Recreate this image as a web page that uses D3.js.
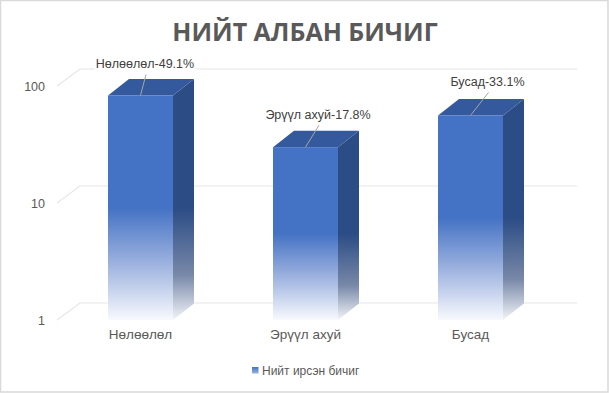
<!DOCTYPE html>
<html><head><meta charset="utf-8">
<script src="https://cdn.jsdelivr.net/npm/d3@7"></script>
<style>html,body{margin:0;padding:0;background:#fff;} svg{display:block;}</style>
</head><body>
<svg id="c" width="609" height="393"></svg>
<script>
const title = "НИЙТ АЛБАН БИЧИГ";
const categories = ["Нөлөөлөл", "Эрүүл ахуй", "Бусад"];
const values = [83, 30, 56];
const percentLabels = ["49.1%", "17.8%", "33.1%"];
const tickValues = [1, 10, 100];
const seriesName = "Нийт ирсэн бичиг";

// layout
const W = 609, H = 393;
const depth = {dx: 23, dy: -17};
const barDepth = {dx: 21, dy: -16.5};
const labelOffsets = [[4.5, -31], [12.5, -32], [17, -33]];

const svg = d3.select("#c");
svg.append("rect").attr("x", 0.5).attr("y", 0.5).attr("width", W - 1.5).attr("height", H - 1.5)
  .attr("fill", "#fff").attr("stroke", "#d9d9d9").attr("stroke-width", 1.5);

const y = d3.scaleLog().domain([1, 100]).range([320, 86]);
const x = d3.scaleBand().domain(categories).range([58, 553]).paddingInner(0.606).paddingOuter(0.303);

// title
svg.append("text").attr("x", 305).attr("y", 41).attr("text-anchor", "middle")
  .attr("font-family", "'Open Sans', 'Liberation Sans', sans-serif").attr("font-weight", "bold")
  .attr("font-size", 25).attr("fill", "#595959").text(title);

// gridlines with perspective
const gridRight = 577;
const grid = svg.append("g");
tickValues.forEach(t => {
  const yf = y(t);
  const x0 = 57;
  grid.append("path")
    .attr("d", `M${x0},${yf} L${x0 + depth.dx},${yf + depth.dy} L${gridRight},${yf + depth.dy}`)
    .attr("fill", "none").attr("stroke", "#e6e6e6").attr("stroke-width", 1.2);
});

// axis labels via d3 axis
const axis = d3.axisLeft(y).tickValues(tickValues).tickFormat(d3.format("d")).tickSize(0).tickPadding(0);
const ag = svg.append("g").attr("transform", "translate(45,0)").call(axis);
ag.select(".domain").remove();
ag.selectAll("text").attr("font-family", "'Liberation Sans', Arial, sans-serif").attr("font-size", 12.5)
  .attr("fill", "#595959");

// bars
const defs = svg.append("defs");
const bars = svg.append("g");
const y0 = y(1);
categories.forEach((c, i) => {
  const xl = x(c), xr = xl + x.bandwidth(), yt = y(values[i]);
  const gf = defs.append("linearGradient").attr("id", "gf" + i).attr("gradientUnits", "userSpaceOnUse")
    .attr("x1", 0).attr("x2", 0).attr("y1", yt).attr("y2", y0);
  gf.append("stop").attr("offset", 0).attr("stop-color", "#4472C4");
  gf.append("stop").attr("offset", 0.5).attr("stop-color", "#4472C4");
  gf.append("stop").attr("offset", 0.75).attr("stop-color", "#9db2df");
  gf.append("stop").attr("offset", 1).attr("stop-color", "#f7f9fd");
  const gs = defs.append("linearGradient").attr("id", "gs" + i).attr("gradientUnits", "userSpaceOnUse")
    .attr("x1", 0).attr("x2", 0).attr("y1", yt).attr("y2", y0);
  gs.append("stop").attr("offset", 0).attr("stop-color", "#2B4C85");
  gs.append("stop").attr("offset", 0.5).attr("stop-color", "#2B4C85");
  gs.append("stop").attr("offset", 0.8).attr("stop-color", "#7888a8");
  gs.append("stop").attr("offset", 1).attr("stop-color", "#f2f4f8");

  // side
  bars.append("polygon").attr("points", [
    [xr, yt], [xr + barDepth.dx, yt + barDepth.dy], [xr + barDepth.dx, y0 + barDepth.dy], [xr, y0]
  ].map(p => p.join(",")).join(" ")).attr("fill", `url(#gs${i})`);
  // top
  bars.append("polygon").attr("points", [
    [xl, yt], [xl + barDepth.dx, yt + barDepth.dy], [xr + barDepth.dx, yt + barDepth.dy], [xr, yt]
  ].map(p => p.join(",")).join(" ")).attr("fill", "#34599C");
  // front
  bars.append("rect").attr("x", xl).attr("y", yt).attr("width", xr - xl).attr("height", y0 - yt)
    .attr("fill", `url(#gf${i})`);

  // data label
  const cx = (xl + xr) / 2;
  const lx = cx + labelOffsets[i][0], ly = yt + labelOffsets[i][1];
  bars.append("line").attr("x1", lx + 1).attr("y1", ly + 10).attr("x2", cx).attr("y2", yt)
    .attr("stroke", "#a6a6a6").attr("stroke-width", 1);
  const txt = bars.append("text").attr("x", lx).attr("y", ly).attr("text-anchor", "middle")
    .attr("dominant-baseline", "central")
    .attr("font-family", "'Liberation Sans', Arial, sans-serif").attr("font-size", 12.5)
    .attr("fill", "#404040").text(c + "-" + percentLabels[i]);
  const bb = txt.node().getBBox();
  bars.insert("rect", () => txt.node()).attr("x", bb.x - 1).attr("y", bb.y + 1).attr("width", bb.width + 2)
    .attr("height", bb.height - 2).attr("fill", "#fff");

  // category label
  svg.append("text").attr("x", cx).attr("y", 339).attr("text-anchor", "middle")
    .attr("font-family", "'Liberation Sans', Arial, sans-serif").attr("font-size", 13.5)
    .attr("fill", "#595959").text(c);
});

// legend
const lg = svg.append("g");
const lgrad = defs.append("linearGradient").attr("id", "lg").attr("x1", 0).attr("x2", 0).attr("y1", 0).attr("y2", 1);
lgrad.append("stop").attr("offset", 0).attr("stop-color", "#4472C4");
lgrad.append("stop").attr("offset", 1).attr("stop-color", "#9db2df");
lg.append("rect").attr("x", 252).attr("y", 367).attr("width", 6.5).attr("height", 6.5).attr("fill", "url(#lg)");
lg.append("text").attr("x", 262).attr("y", 370.5).attr("dominant-baseline", "central")
  .attr("font-family", "'Liberation Sans', Arial, sans-serif").attr("font-size", 12)
  .attr("fill", "#595959").text(seriesName);
</script>
</body></html>
